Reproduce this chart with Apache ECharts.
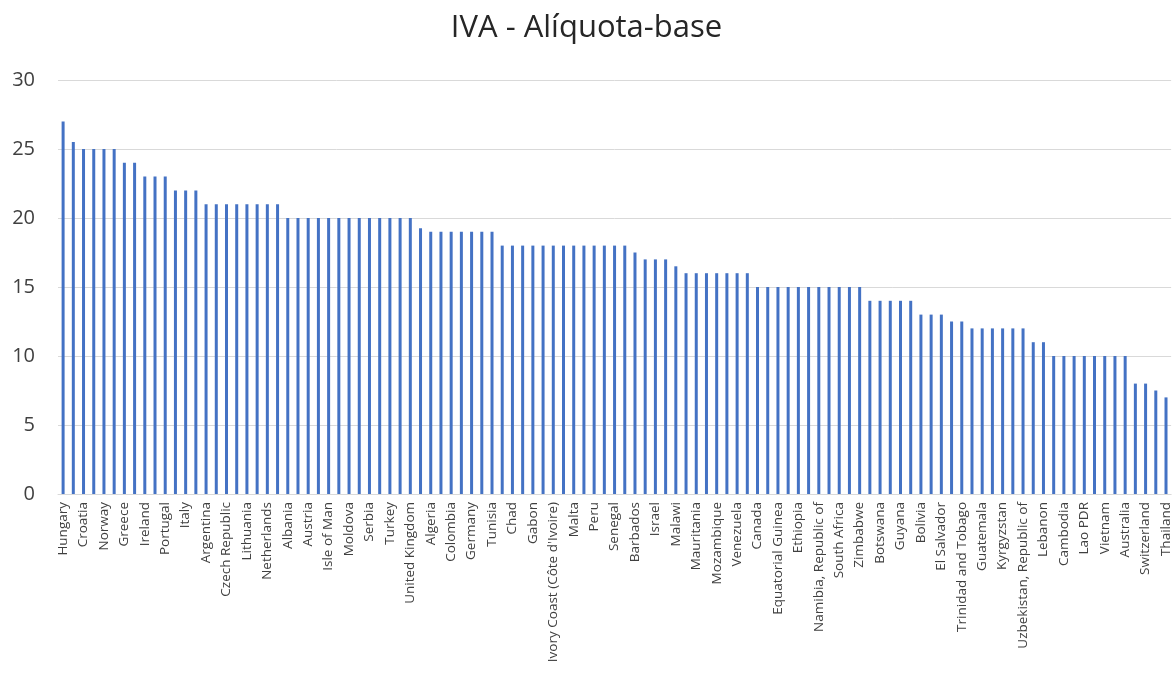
<!DOCTYPE html>
<html>
<head>
<meta charset="utf-8">
<script src="https://cdn.jsdelivr.net/npm/echarts@6/dist/echarts.min.js"></script>
<style>
html,body{margin:0;padding:0;background:#fff;}
#chart{width:1173px;height:675px;}
</style>
</head>
<body>
<div id="chart"></div>
<script>
const chartTitle = "IVA - Alíquota-base";
const countries = [
  "Hungary","Iceland","Croatia","Denmark","Norway","Sweden","Greece","Romania",
  "Ireland","Poland","Portugal","Finland","Italy","Uruguay","Argentina","Belgium",
  "Czech Republic","Latvia","Lithuania","Mongolia","Netherlands","Spain","Albania","Armenia",
  "Austria","Bulgaria","Isle of Man","Madagascar","Moldova","Morocco","Serbia","Slovakia",
  "Turkey","Ukraine","United Kingdom","Cameroon","Algeria","Chile","Colombia","Cyprus",
  "Germany","Montenegro","Tunisia","Burkina Faso","Chad","Dominican Republic","Gabon","Guinea",
  "Ivory Coast (Côte d'Ivoire)","Mali","Malta","Niger","Peru","Russia","Senegal","Togo",
  "Barbados","China","Israel","Luxembourg","Malawi","Kenya","Mauritania","Mexico",
  "Mozambique","Suriname","Venezuela","Zambia","Canada","Cape Verde","Equatorial Guinea","Eritrea",
  "Ethiopia","Mauritius","Namibia, Republic of","New Zealand","South Africa","Sri Lanka","Zimbabwe","Antigua and Barbuda",
  "Botswana","Ghana","Guyana","Seychelles","Bolivia","Nepal","El Salvador","Fiji",
  "Trinidad and Tobago","Ecuador","Guatemala","Kazakhstan","Kyrgyzstan","Philippines","Uzbekistan, Republic of","Haiti",
  "Lebanon","Egypt","Cambodia","Indonesia","Lao PDR","Paraguay","Vietnam","Korea, Republic of",
  "Australia","Japan","Switzerland","Nigeria","Thailand"
];
const vatRates = [
  27,25.5,25,25,25,25,24,24,
  23,23,23,22,22,22,21,21,
  21,21,21,21,21,21,20,20,
  20,20,20,20,20,20,20,20,
  20,20,20,19.25,19,19,19,19,
  19,19,19,18,18,18,18,18,
  18,18,18,18,18,18,18,18,
  17.5,17,17,17,16.5,16,16,16,
  16,16,16,16,15,15,15,15,
  15,15,15,15,15,15,15,14,
  14,14,14,14,13,13,13,12.5,
  12.5,12,12,12,12,12,12,11,
  11,10,10,10,10,10,10,10,
  10,8,8,7.5,7
];
const yTicks = {min: 0, max: 30, interval: 5};

const chart = echarts.init(document.getElementById('chart'), null, {renderer: 'canvas'});
chart.setOption({
  animation: false,
  backgroundColor: '#ffffff',
  title: {
    text: chartTitle,
    left: 'center',
    top: 8,
    textStyle: {fontFamily: 'Open Sans', fontSize: 31, fontWeight: 'normal', color: '#262626'}
  },
  grid: {left: 58, right: 0, top: 80, bottom: 181, containLabel: false},
  xAxis: {
    type: 'category',
    data: countries,
    boundaryGap: true,
    axisLine: {show: true, lineStyle: {color: '#d9d9d9', width: 1}},
    axisTick: {show: false},
    axisLabel: {
      interval: 1,
      rotate: 90,
      margin: 8,
      fontFamily: 'Open Sans',
      fontSize: 13.5,
      color: '#404040'
    }
  },
  yAxis: {
    type: 'value',
    min: yTicks.min,
    max: yTicks.max,
    interval: yTicks.interval,
    axisLine: {show: false},
    axisTick: {show: false},
    splitLine: {lineStyle: {color: '#d9d9d9', width: 1}},
    axisLabel: {fontFamily: 'Open Sans', fontSize: 20, color: '#404040', margin: 23}
  },
  series: [{
    type: 'bar',
    data: vatRates,
    barWidth: 3,
    itemStyle: {color: '#4472C4'}
  }]
});
</script>
</body>
</html>
